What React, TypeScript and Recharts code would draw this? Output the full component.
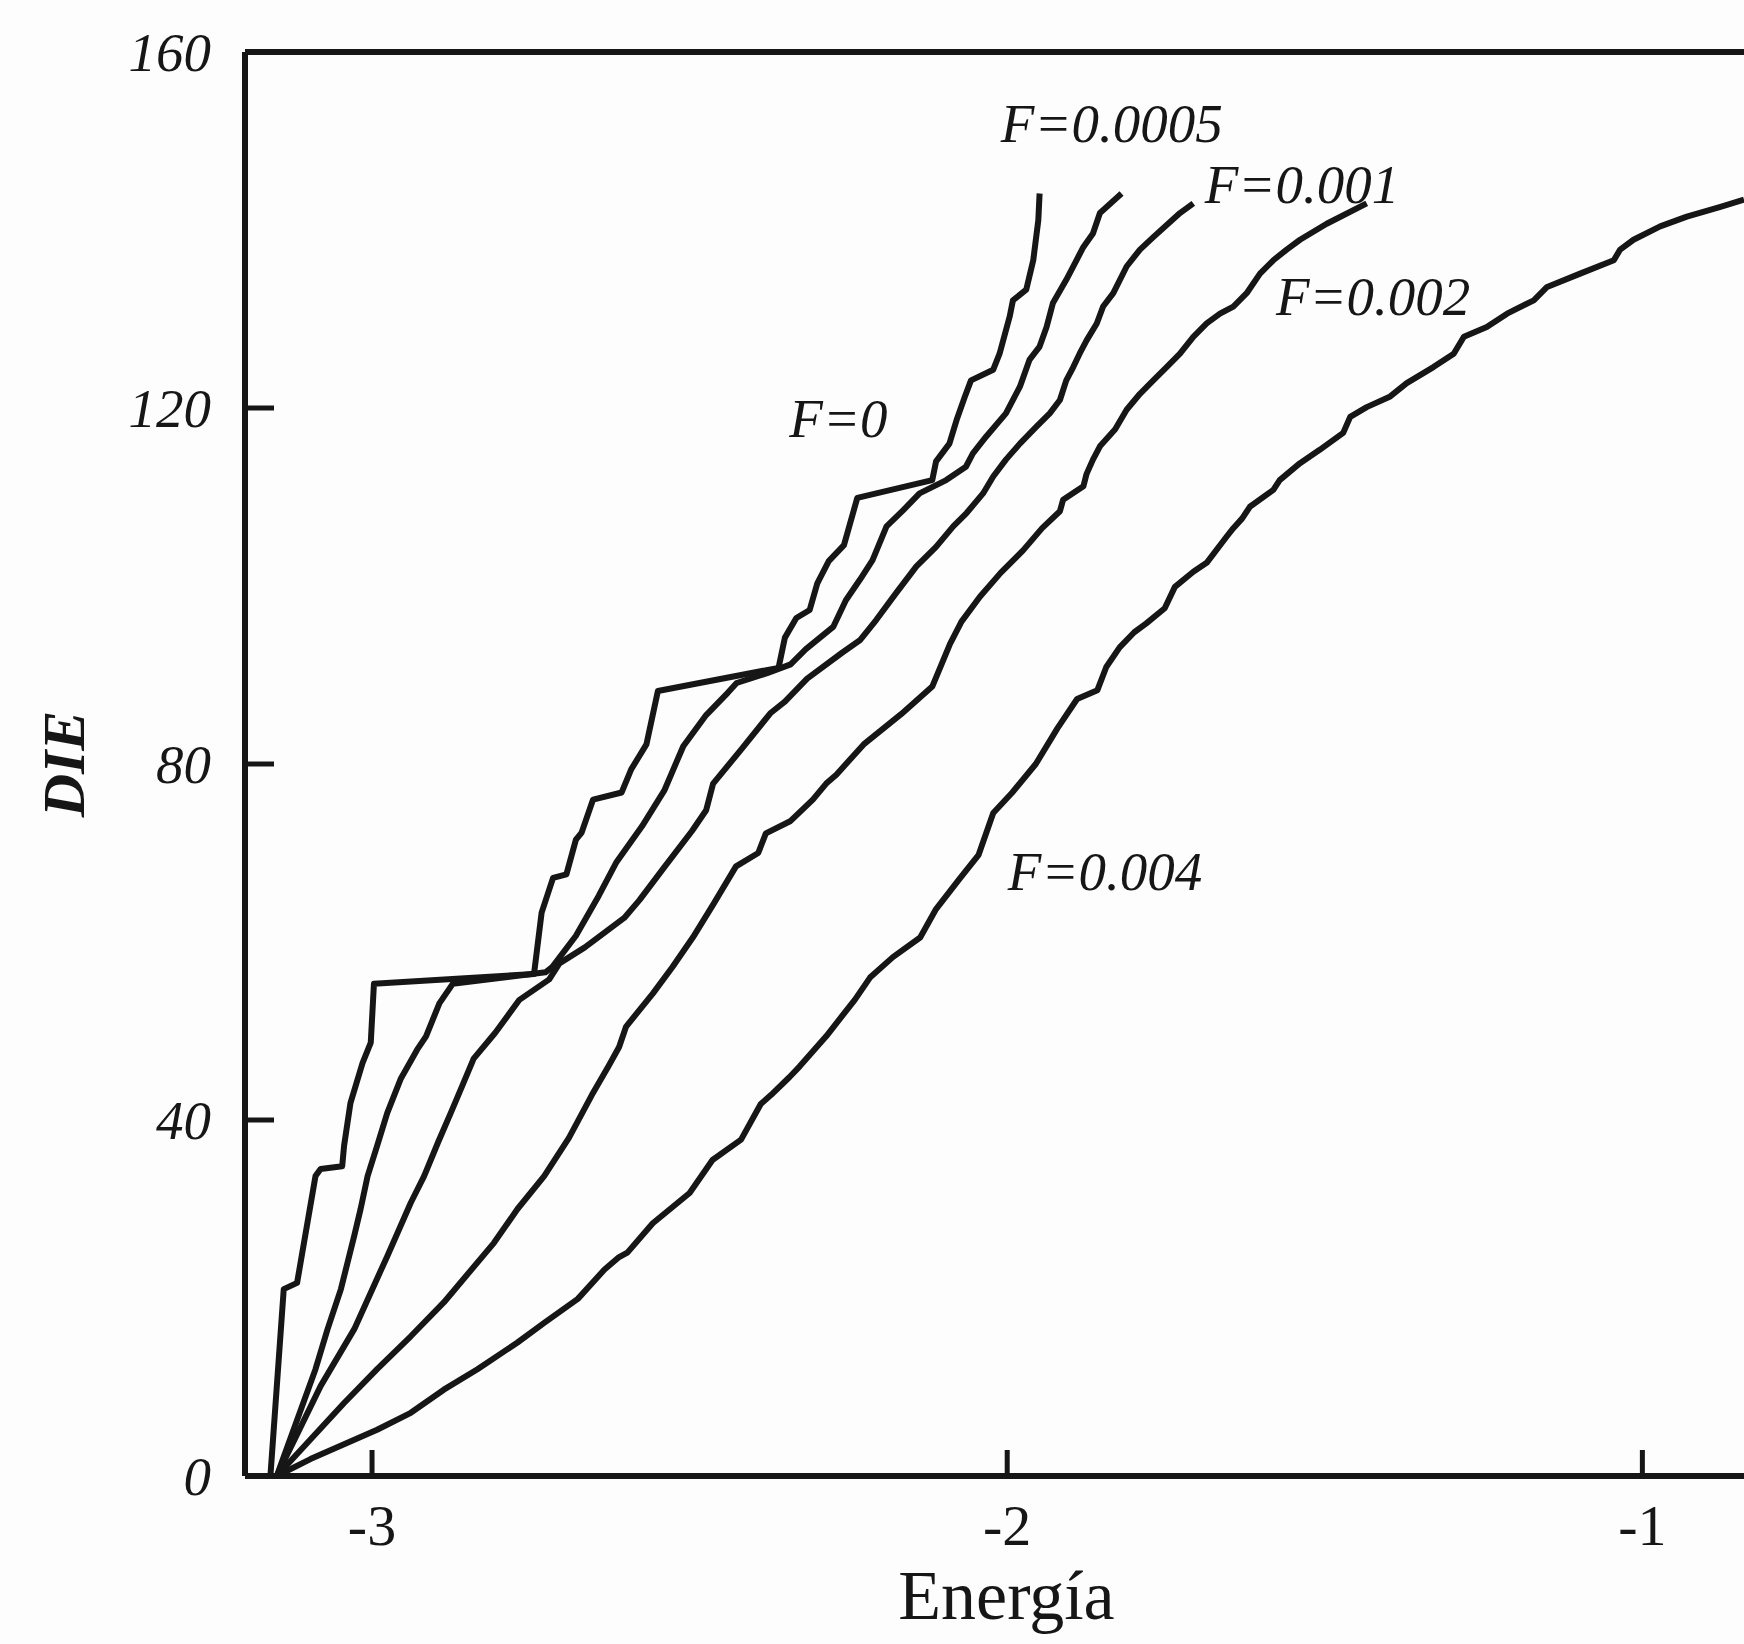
import { LineChart, Line, XAxis, YAxis, ReferenceLine, ReferenceDot } from 'recharts';

type Pt = { e: number; die: number };

const SERIF = "'Liberation Serif', 'Times New Roman', serif";
const INK = '#161616';

// [energy, DIE] pairs per field strength
const pts = (rows: number[][]): Pt[] => rows.map(([e, die]) => ({ e, die }));

const f0 = pts([
    [-3.16, 0], [-3.139, 21.0], [-3.118, 21.7], [-3.089, 33.7], [-3.081, 34.5], [-3.047, 34.8],
    [-3.044, 37.1], [-3.034, 41.9], [-3.015, 46.4], [-3.002, 48.7], [-2.997, 55.3], [-2.745, 56.4],
    [-2.733, 63.3], [-2.715, 67.2], [-2.694, 67.6], [-2.679, 71.5], [-2.67, 72.3], [-2.652, 76.0],
    [-2.607, 76.8], [-2.592, 79.4], [-2.568, 82.2], [-2.55, 88.2], [-2.36, 90.8], [-2.35, 94.2],
    [-2.332, 96.4], [-2.311, 97.3], [-2.299, 100.3], [-2.281, 102.8], [-2.257, 104.6], [-2.236, 109.9],
    [-2.118, 111.9], [-2.112, 114.0], [-2.091, 116.0], [-2.079, 118.8], [-2.067, 121.2], [-2.057, 123.1],
    [-2.022, 124.3], [-2.012, 126.1], [-1.996, 130.3], [-1.991, 132.1], [-1.97, 133.3], [-1.959, 136.6],
    [-1.951, 141.1], [-1.949, 144.1],
]);

const f0005 = pts([
    [-3.15, 0], [-3.089, 12.0], [-3.07, 16.5], [-3.049, 21.0], [-3.028, 27.0], [-3.018, 30.0],
    [-3.007, 33.7], [-2.992, 37.1], [-2.976, 40.8], [-2.955, 44.6], [-2.929, 47.9], [-2.915, 49.4],
    [-2.894, 53.1], [-2.873, 55.3], [-2.727, 56.6], [-2.716, 57.2], [-2.679, 60.7], [-2.643, 65.2],
    [-2.615, 69.0], [-2.575, 73.0], [-2.54, 77.0], [-2.51, 82.0], [-2.474, 85.5], [-2.44, 88.0],
    [-2.426, 89.1], [-2.378, 90.2], [-2.341, 91.2], [-2.317, 92.9], [-2.274, 95.4], [-2.254, 98.4],
    [-2.232, 100.7], [-2.212, 102.9], [-2.19, 106.7], [-2.164, 108.5], [-2.138, 110.4], [-2.096, 111.9],
    [-2.065, 113.4], [-2.054, 114.9], [-2.033, 116.8], [-2.002, 119.4], [-1.98, 122.4], [-1.965, 125.4],
    [-1.949, 126.9], [-1.938, 129.1], [-1.928, 131.8], [-1.907, 134.4], [-1.891, 136.6], [-1.88, 138.1],
    [-1.865, 139.6], [-1.854, 141.9], [-1.82, 144.1],
]);

const f001 = pts([
    [-3.15, 0], [-3.081, 10.1], [-3.028, 16.5], [-2.976, 24.7], [-2.939, 30.7], [-2.918, 33.7],
    [-2.896, 37.5], [-2.876, 40.8], [-2.857, 44.0], [-2.84, 46.9], [-2.806, 49.8], [-2.768, 53.5],
    [-2.721, 55.8], [-2.705, 57.6], [-2.665, 59.4], [-2.603, 62.7], [-2.579, 64.7], [-2.541, 68.3],
    [-2.496, 72.5], [-2.474, 74.8], [-2.463, 77.8], [-2.418, 81.7], [-2.373, 85.7], [-2.35, 87.0],
    [-2.315, 89.6], [-2.26, 92.5], [-2.232, 93.9], [-2.206, 96.2], [-2.175, 99.2], [-2.143, 102.2],
    [-2.112, 104.4], [-2.085, 106.7], [-2.064, 108.2], [-2.038, 110.4], [-2.022, 112.3], [-2.002, 114.2],
    [-1.98, 116.0], [-1.954, 117.9], [-1.933, 119.4], [-1.917, 120.9], [-1.907, 123.1], [-1.896, 124.6],
    [-1.886, 126.1], [-1.875, 127.6], [-1.859, 129.5], [-1.849, 131.4], [-1.833, 132.9], [-1.812, 135.9],
    [-1.791, 137.8], [-1.77, 139.2], [-1.728, 141.9], [-1.707, 143.0],
]);

const f002 = pts([
    [-3.15, 0], [-3.044, 8.2], [-2.992, 12.0], [-2.939, 15.7], [-2.887, 19.5], [-2.808, 26.2],
    [-2.771, 30.0], [-2.729, 33.7], [-2.69, 38.0], [-2.654, 42.8], [-2.628, 46.0], [-2.611, 48.2],
    [-2.6, 50.5], [-2.558, 54.2], [-2.527, 57.2], [-2.495, 60.5], [-2.463, 64.2], [-2.427, 68.5],
    [-2.392, 70.0], [-2.38, 72.2], [-2.341, 73.6], [-2.306, 76.0], [-2.285, 77.8], [-2.269, 78.8],
    [-2.226, 82.2], [-2.167, 85.6], [-2.118, 88.7], [-2.09, 93.5], [-2.072, 96.0], [-2.043, 98.8],
    [-2.01, 101.5], [-1.975, 104.0], [-1.945, 106.5], [-1.917, 108.4], [-1.912, 109.7], [-1.88, 111.2],
    [-1.875, 112.6], [-1.865, 114.2], [-1.854, 115.7], [-1.83, 117.6], [-1.812, 119.8], [-1.791, 121.6],
    [-1.77, 123.1], [-1.749, 124.6], [-1.728, 126.1], [-1.707, 128.0], [-1.686, 129.5], [-1.665, 130.6],
    [-1.644, 131.4], [-1.623, 132.9], [-1.602, 135.1], [-1.581, 136.6], [-1.56, 137.8], [-1.539, 138.9],
    [-1.497, 140.7], [-1.434, 143.0],
]);

const f004 = pts([
    [-3.15, 0], [-3.097, 1.9], [-2.992, 5.2], [-2.939, 7.1], [-2.887, 9.7], [-2.834, 12.0],
    [-2.771, 15.0], [-2.729, 17.2], [-2.676, 19.9], [-2.634, 23.2], [-2.611, 24.6], [-2.598, 25.1],
    [-2.558, 28.4], [-2.5, 31.8], [-2.464, 35.5], [-2.419, 37.8], [-2.388, 41.8], [-2.372, 42.8],
    [-2.343, 44.8], [-2.327, 46.0], [-2.285, 49.4], [-2.262, 51.5], [-2.24, 53.5], [-2.216, 56.0],
    [-2.18, 58.3], [-2.137, 60.5], [-2.112, 63.7], [-2.076, 67.0], [-2.045, 69.8], [-2.022, 74.5],
    [-1.992, 76.8], [-1.955, 80.0], [-1.921, 84.0], [-1.89, 87.3], [-1.858, 88.3], [-1.844, 90.9],
    [-1.823, 93.1], [-1.8, 94.8], [-1.781, 95.8], [-1.752, 97.5], [-1.736, 99.9], [-1.707, 101.6],
    [-1.686, 102.6], [-1.655, 105.5], [-1.644, 106.5], [-1.63, 107.6], [-1.618, 108.9], [-1.581, 110.8],
    [-1.571, 111.9], [-1.539, 113.8], [-1.508, 115.3], [-1.471, 117.2], [-1.46, 119.0], [-1.434, 120.1],
    [-1.397, 121.3], [-1.371, 122.8], [-1.329, 124.6], [-1.297, 126.1], [-1.281, 128.0], [-1.245, 129.1],
    [-1.213, 130.6], [-1.171, 132.1], [-1.15, 133.6], [-1.098, 135.1], [-1.045, 136.6], [-1.035, 137.8],
    [-1.014, 138.9], [-0.972, 140.4], [-0.93, 141.5], [-0.877, 142.6], [-0.84, 143.4],
]);

const series = [
    { key: 'F=0', data: f0 },
    { key: 'F=0.0005', data: f0005 },
    { key: 'F=0.001', data: f001 },
    { key: 'F=0.002', data: f002 },
    { key: 'F=0.004', data: f004 },
];

const xTicks = [-3, -2, -1];
const yTicks = [0, 40, 80, 120, 160];

// label anchors: left edge / baseline, in data units
const curveLabels = [
    { text: 'F=0', e: -2.343, die: 116.7 },
    { text: 'F=0.0005', e: -2.01, die: 149.9 },
    { text: 'F=0.001', e: -1.689, die: 143.0 },
    { text: 'F=0.002', e: -1.577, die: 130.4 },
    { text: 'F=0.004', e: -1.999, die: 65.8 },
];

function EnergyTick({ x, y, payload }: any) {
    return (
        <g>
            <line x1={x} y1={y} x2={x} y2={y - 26} stroke={INK} strokeWidth={5} />
            <text x={x} y={y + 69} textAnchor="middle" fontFamily={SERIF} fontSize={58} fill={INK}>
                {payload.value}
            </text>
        </g>
    );
}

function DieTick({ x, y, payload }: any) {
    return (
        <g>
            <line x1={x + 34} y1={y} x2={x + 63} y2={y} stroke={INK} strokeWidth={5} />
            <text x={x} y={y + 19} textAnchor="end" fontFamily={SERIF} fontStyle="italic" fontSize={55} fill={INK}>
                {payload.value}
            </text>
        </g>
    );
}

const curveLabel = (text: string) => (props: any) => {
    const vb = props.viewBox || {};
    return (
        <text x={vb.x} y={vb.y} fontFamily={SERIF} fontStyle="italic" fontSize={55} fill={INK}>
            {text}
        </text>
    );
};

export default function App() {
    return (
        <div style={{ position: 'absolute', left: 0, top: 0, width: 1744, height: 1644, overflow: 'hidden', background: '#fdfdfd' }}>
            <LineChart width={1744} height={1644} margin={{ top: 52, right: 0, bottom: 0, left: 0 }}>
                <XAxis
                    dataKey="e"
                    type="number"
                    domain={[-3.2, -0.84]}
                    allowDataOverflow
                    ticks={xTicks}
                    height={168}
                    tickSize={0}
                    tickMargin={0}
                    axisLine={{ stroke: INK, strokeWidth: 6 }}
                    tickLine={false}
                    tick={<EnergyTick />}
                    label={(p: any) => {
                        const vb = p.viewBox || {};
                        return (
                            <text x={vb.x + vb.width / 2 + 12} y={vb.y + 143} textAnchor="middle" fontFamily={SERIF} fontSize={70} fill={INK}>
                                Energía
                            </text>
                        );
                    }}
                />
                <YAxis
                    dataKey="die"
                    type="number"
                    domain={[0, 160]}
                    ticks={yTicks}
                    width={245}
                    tickSize={0}
                    tickMargin={34}
                    axisLine={{ stroke: INK, strokeWidth: 6 }}
                    tickLine={false}
                    tick={<DieTick />}
                    label={(p: any) => {
                        const vb = p.viewBox || {};
                        const cx = 64;
                        const cy = vb.y + vb.height / 2;
                        return (
                            <text x={cx} y={cy} transform={`rotate(-90 ${cx} ${cy})`} textAnchor="middle" dominantBaseline="central"
                                fontFamily={SERIF} fontStyle="italic" fontWeight="bold" fontSize={60} fill={INK}>
                                DIE
                            </text>
                        );
                    }}
                />
                <ReferenceLine y={160} stroke={INK} strokeWidth={6} />
                {series.map((s) => (
                    <Line
                        key={s.key}
                        data={s.data}
                        dataKey="die"
                        name={s.key}
                        type="linear"
                        stroke={INK}
                        strokeWidth={6}
                        strokeLinejoin="round"
                        dot={false}
                        activeDot={false}
                        isAnimationActive={false}
                    />
                ))}
                {curveLabels.map((l) => (
                    <ReferenceDot key={l.text} x={l.e} y={l.die} r={0} fill="none" stroke="none" label={curveLabel(l.text)} />
                ))}
            </LineChart>
        </div>
    );
}
